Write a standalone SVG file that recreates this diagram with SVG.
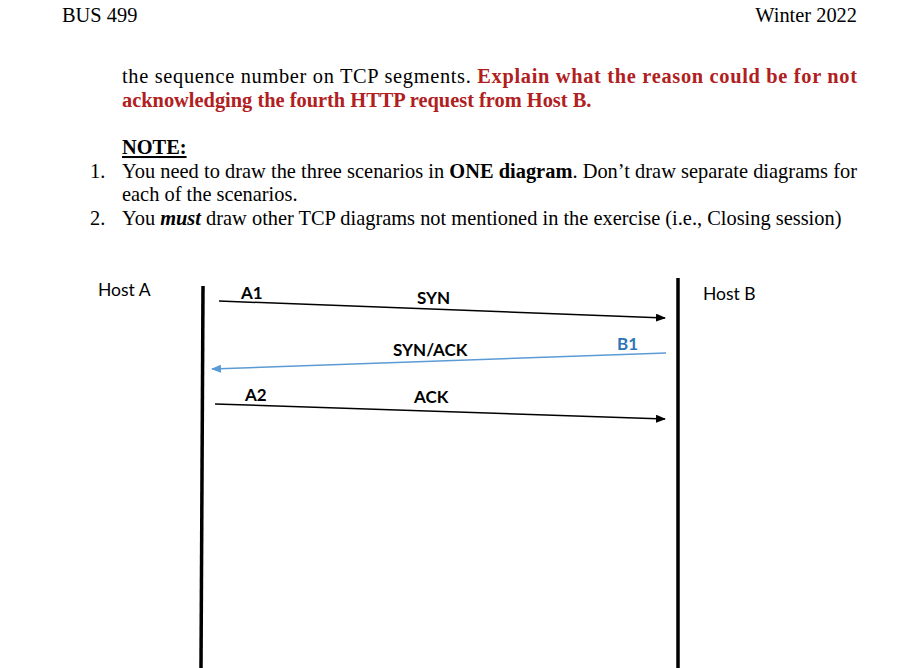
<svg xmlns="http://www.w3.org/2000/svg" width="918" height="668" viewBox="0 0 918 668">
<defs>
<style>
.t{font-family:"Liberation Serif","Times New Roman",serif;font-size:20.4px;fill:#000}
.red{fill:#b0201e;font-weight:bold}
.b{font-weight:bold}
.d{font-family:Lato,"Open Sans",sans-serif;font-size:17.5px;fill:#000}
.lbl{font-family:Lato,"Open Sans",sans-serif;font-size:17px;font-weight:bold;fill:#000}
.msg{stroke:#000;stroke-width:1.5;fill:none}
.life{stroke:#000;stroke-width:3.5}
</style>
<marker id="ab" markerWidth="10" markerHeight="8" refX="9" refY="4" orient="auto" markerUnits="userSpaceOnUse"><path d="M0,0 L10,4 L0,8 z" fill="#000"/></marker>
<marker id="au" markerWidth="10" markerHeight="8" refX="9" refY="4" orient="auto" markerUnits="userSpaceOnUse"><path d="M0,0 L10,4 L0,8 z" fill="#5b9bd5"/></marker>
</defs>
<rect width="918" height="668" fill="#fff"/>
<g id="header">
<text class="t" x="62" y="22">BUS 499</text>
<text class="t" x="857" y="22" text-anchor="end">Winter 2022</text>
</g>
<g id="paragraph">
<text class="t" x="122" y="83" textLength="735" lengthAdjust="spacing">the sequence number on TCP segments. <tspan class="red">Explain what the reason could be for not</tspan></text>
<text class="t red" x="122" y="107">acknowledging the fourth HTTP request from Host B.</text>
<text class="t b" x="122" y="154" text-decoration="underline">NOTE:</text>
<text class="t" x="90" y="178">1.</text>
<text class="t" x="122" y="178" textLength="735" lengthAdjust="spacing">You need to draw the three scenarios in <tspan class="b">ONE diagram</tspan>. Don’t draw separate diagrams for</text>
<text class="t" x="122" y="201">each of the scenarios.</text>
<text class="t" x="90" y="225">2.</text>
<text class="t" x="122" y="225">You <tspan class="b" font-style="italic">must</tspan> draw other TCP diagrams not mentioned in the exercise (i.e., Closing session)</text>
</g>
<g id="hostA">
<text class="d" x="98" y="296">Host A</text>
<line class="life" x1="203" y1="286" x2="201" y2="668"/>
</g>
<g id="hostB">
<text class="d" x="703" y="300">Host B</text>
<line class="life" x1="678" y1="278" x2="678" y2="668"/>
</g>
<g id="connectors">
<line class="msg" x1="219" y1="301" x2="665" y2="318" marker-end="url(#ab)"/>
<line x1="666" y1="353" x2="212" y2="369" stroke="#5b9bd5" stroke-width="1.5" marker-end="url(#au)"/>
<line class="msg" x1="215" y1="404" x2="665" y2="419" marker-end="url(#ab)"/>
</g>
<g id="labels">
<text class="lbl" x="241" y="299">A1</text>
<text class="lbl" x="417" y="304">SYN</text>
<text class="lbl" x="393" y="356">SYN/ACK</text>
<text class="lbl" x="617" y="350" style="fill:#2e75b6">B1</text>
<text class="lbl" x="245" y="401">A2</text>
<text class="lbl" x="414" y="403">ACK</text>
</g>
</svg>
